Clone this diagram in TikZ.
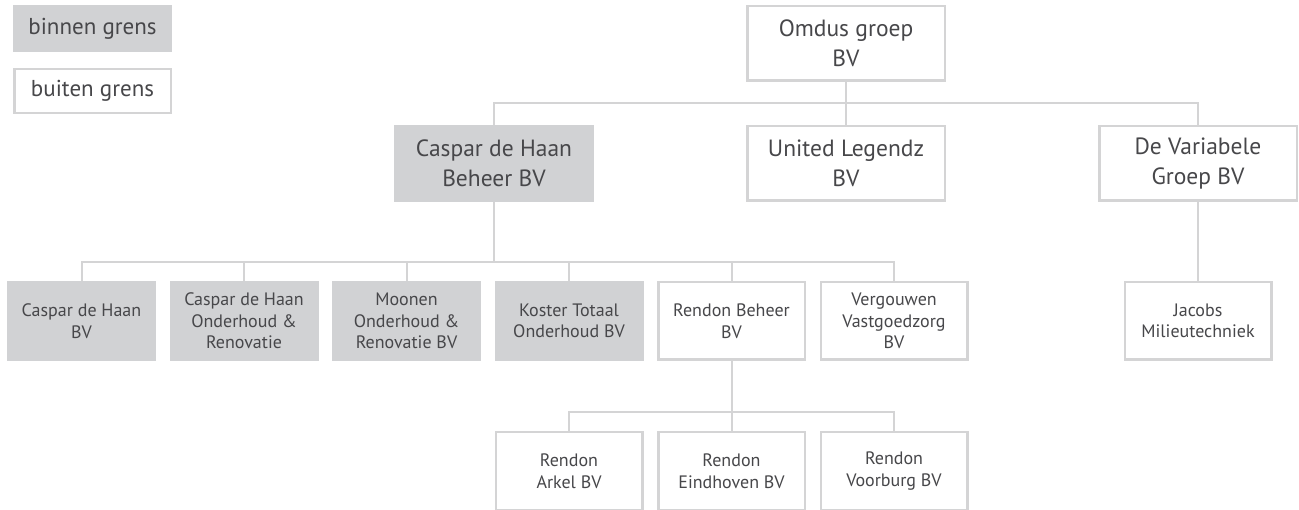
\documentclass[tikz,border=0pt]{standalone}
\usepackage{fontspec}
\setmainfont{PT Sans}
\usetikzlibrary{positioning}
\definecolor{boxgray}{HTML}{D1D2D4}
\definecolor{linegray}{HTML}{D4D4D5}
\definecolor{textgray}{HTML}{47474A}

\begin{document}
\begin{tikzpicture}[x=1pt,y=-1pt,node distance=13.5pt,
    box/.style={rectangle,line width=2.5pt,align=center,inner sep=0pt,text=textgray},
    inbox/.style={box,draw=boxgray,fill=boxgray},
    outbox/.style={box,draw=linegray,fill=white},
    big/.style={minimum width=197.5pt,minimum height=74.5pt,font=\fontsize{23.5}{30}\selectfont},
    small/.style={minimum width=146.5pt,minimum height=77.5pt,font=\fontsize{18}{21.5}\selectfont},
    legend/.style={minimum width=156.5pt,minimum height=44pt,font=\fontsize{23}{26}\selectfont},
    link/.style={draw=linegray,line width=2pt}]

    \useasboundingbox (0,0) rectangle (1299,510);

    % legenda
    \node[inbox,legend] (legin) at (92.5,28.5) {binnen grens};
    \node[outbox,legend] (legout) at (92.5,91) {buiten grens};

    % bovenste lagen
    \node[inbox,big] (caspar) at (494,163.5) {Caspar de Haan\\Beheer BV};
    \node[outbox,big] (united) at (846,163.5) {United Legendz\\BV};
    \node[outbox,big] (variabele) at (1198,163.5) {De Variabele\\Groep BV};
    \node[outbox,big] (omdus) [above=43pt of united] {Omdus groep\\BV};

    % dochters
    \node[inbox,small] (c1) at (81.5,321) {Caspar de Haan\\BV};
    \foreach \curr/\txt [
        evaluate = \curr as \prev using {int(\curr-1)},
    ] in {2/{Caspar de Haan\\Onderhoud \&\\Renovatie},
          3/{Moonen\\Onderhoud \&\\Renovatie BV},
          4/{Koster Totaal\\Onderhoud BV}}{
        \node[inbox,small] (c\curr) [right=of c\prev]{\txt};
    }
    \node[outbox,small] (c5) [right=of c4]{Rendon Beheer\\BV};
    \node[outbox,small] (c6) [right=of c5]{Vergouwen\\Vastgoedzorg\\BV};
    \node[outbox,small] (jacobs) [below=79pt of variabele]{Jacobs\\Milieutechniek};

    \node[outbox,small] (r2) [below=70pt of c5]{Rendon\\Eindhoven BV};
    \node[outbox,small] (r1) [left=of r2]{Rendon\\Arkel BV};
    \node[outbox,small] (r3) [right=of r2]{Rendon\\Voorburg BV};

    % lijnen
    \coordinate (bus1) at (846,103);
    \coordinate (bus2) at (494,262);
    \coordinate (bus3) at (731.5,412);

    \draw[link] (omdus) -- (united);
    \draw[link] (caspar.north) |- (bus1) -| (variabele.north);
    \draw[link] (caspar.south) -- (bus2);
    \draw[link] (c1.north) |- (bus2) -| (c6.north);
    \foreach \curr in {2,...,5}{
        \draw[link] (c\curr.north) -- (c\curr.north |- bus2);
    }
    \draw[link] (variabele) -- (jacobs);
    \draw[link] (c5.south) -- (bus3);
    \draw[link] (r1.north) |- (bus3) -| (r3.north);
    \draw[link] (r2.north) -- (bus3);

\end{tikzpicture}
\end{document}
